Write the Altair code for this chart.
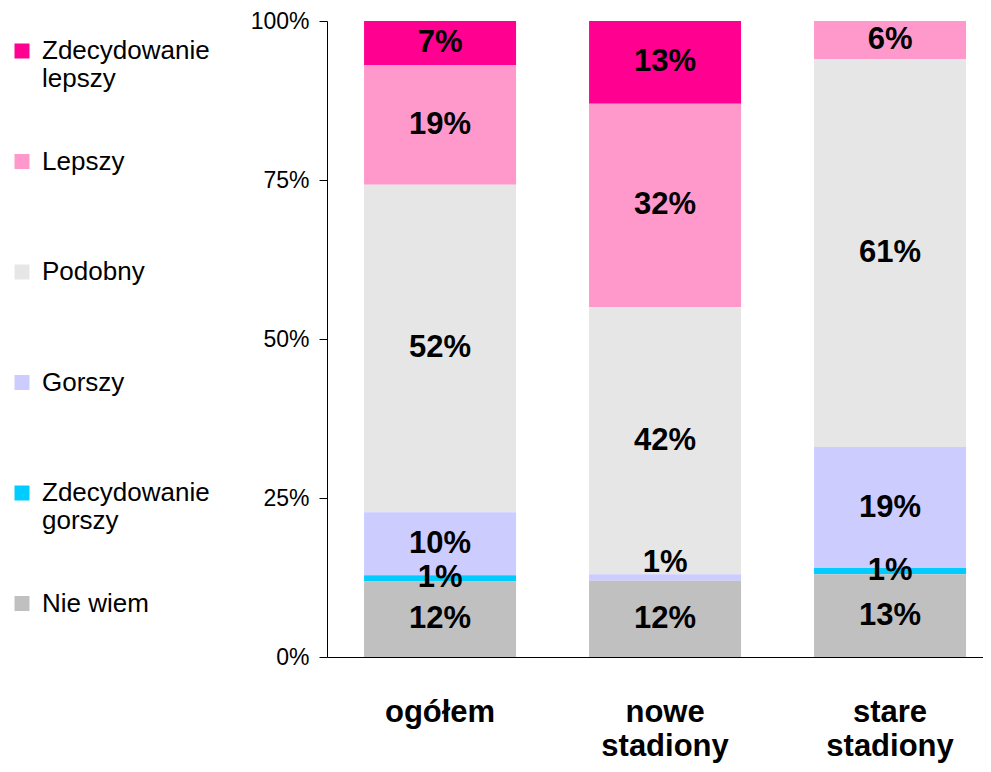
import altair as alt
import pandas as pd

groups = ["ogółem", "nowe stadiony", "stare stadiony"]
categories = ["Zdecydowanie lepszy", "Lepszy", "Podobny", "Gorszy", "Zdecydowanie gorszy", "Nie wiem"]
colors = ["#FF0090", "#FF99CC", "#E6E6E6", "#CCCCFF", "#00CCFF", "#C0C0C0"]
ogolem = [7, 19, 52, 10, 1, 12]
nowe = [13, 32, 42, 1, 0, 12]
stare = [0, 6, 61, 19, 1, 13]

rows = []
for g, vals in zip(groups, [ogolem, nowe, stare]):
    for i, (c, v) in enumerate(zip(categories, vals)):
        rows.append({"group": g, "cat": c, "value": v, "order": len(categories) - 1 - i,
                     "label": f"{v}%"})
df = pd.DataFrame(rows)

FONT = "Liberation Sans"

xscale = alt.Scale(domain=groups, paddingInner=0.324, paddingOuter=0.1198, align=0.6865)
yscale = alt.Scale(domain=[0, 1])

# two-line labels for every entry so that all legend rows are equally tall
legend_expr = ("indexof(datum.label, 'Zdecydowanie ') == 0 ? "
               "['Zdecydowanie', substring(datum.label, 13)] : [datum.label, '']")

base = alt.Chart(df)

bars = base.mark_bar(size=152).encode(
    x=alt.X("group:N", scale=xscale, sort=groups,
            axis=alt.Axis(title=None, ticks=False, labelAngle=0, domainColor="black",
                          labelFont=FONT, labelFontSize=31, labelFontWeight="bold",
                          labelColor="black", labelPadding=40, labelBaseline="top",
                          labelLineHeight=34, labelExpr="split(datum.label, ' ')")),
    y=alt.Y("value:Q", stack="normalize", scale=yscale,
            axis=alt.Axis(title=None, format="%", values=[0, 0.25, 0.5, 0.75, 1], grid=False,
                          domainColor="black", tickColor="black", tickSize=8,
                          labelFont=FONT, labelFontSize=23, labelColor="black",
                          labelPadding=10)),
    color=alt.Color("cat:N", scale=alt.Scale(domain=categories, range=colors),
                    legend=alt.Legend(title=None, orient="none", legendX=-318, legendY=17,
                                      symbolType="square", symbolSize=225,
                                      symbolStrokeWidth=0, labelFont=FONT,
                                      labelFontSize=26, labelColor="black",
                                      labelOffset=7, rowPadding=56.5, labelLimit=300,
                                      labelBaseline="middle",
                                      labelExpr=legend_expr)),
    order=alt.Order("order:Q"),
)

stacked = base.transform_stack(
    stack="value", groupby=["group"], sort=[alt.SortField("order")],
    offset="normalize", as_=["y0", "y1"]
).transform_calculate(mid="(datum.y0 + datum.y1) / 2").transform_filter("datum.value > 0")

text_enc = dict(
    x=alt.X("group:N", scale=xscale, sort=groups),
    y=alt.Y("mid:Q", scale=yscale),
    text="label:N",
)

texts = stacked.transform_filter(
    "!(datum.group == 'nowe stadiony' && datum.cat == 'Gorszy')"
).mark_text(font=FONT, fontSize=31, fontWeight="bold", color="black", baseline="middle").encode(**text_enc)

text_special = stacked.transform_filter(
    "datum.group == 'nowe stadiony' && datum.cat == 'Gorszy'"
).mark_text(font=FONT, fontSize=31, fontWeight="bold", color="black", baseline="middle", dy=-15).encode(**text_enc)

chart = alt.layer(bars, texts, text_special).properties(
    width=656, height=636,
    autosize=alt.AutoSizeParams(type="none"),
    padding={"left": 319, "top": 13, "right": 0, "bottom": 107},
).configure_view(stroke=None)

chart.save("out.html", embed_options={"renderer": "svg", "actions": False})
